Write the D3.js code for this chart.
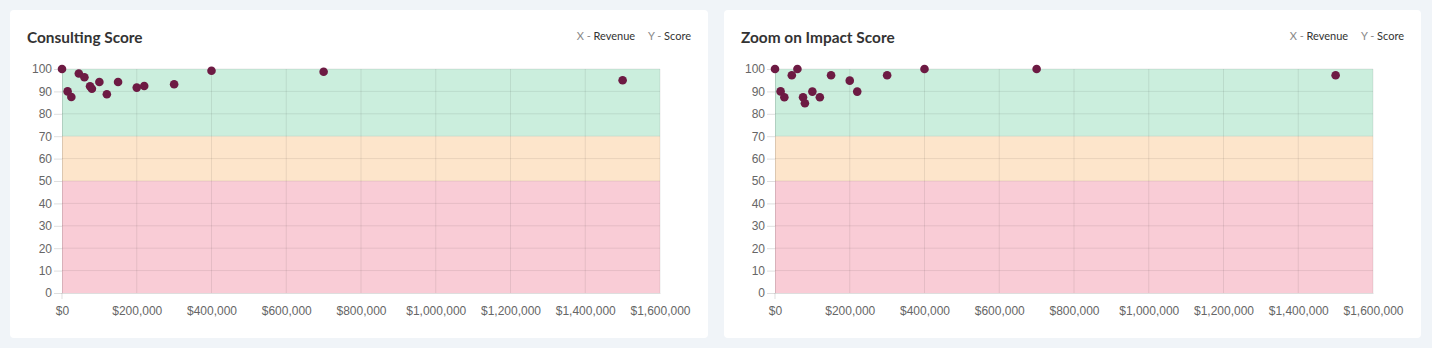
<!DOCTYPE html>
<html>
<head>
<meta charset="utf-8">
<script src="https://cdn.jsdelivr.net/npm/d3@7.9.0/dist/d3.min.js"></script>
<style>
  body { margin: 0; background: #f0f4f8; }
  svg { display: block; }
  .tick text { font-family: Arial, "Liberation Sans", sans-serif; font-size: 12px; fill: #666; }
</style>
</head>
<body>
<svg id="chart" width="1432" height="348"></svg>
<script>
// revenue of each client (same for both charts)
const revenue = [0, 15000, 25000, 45000, 60000, 75000, 80000, 100000, 120000, 150000, 200000, 220000, 300000, 400000, 700000, 1500000];
const consultingScore = [100, 90, 87.5, 98, 96.3, 92.3, 91.2, 94.2, 88.7, 94.2, 91.7, 92.4, 93.2, 99.2, 98.8, 95];
const impactScore = [100, 90, 87.4, 97.2, 100, 87.4, 84.7, 89.9, 87.4, 97.2, 94.8, 89.9, 97.2, 100, 100, 97.2];

const titles = ['Consulting Score', 'Zoom on Impact Score'];
const xTicks = [0, 200000, 400000, 600000, 800000, 1000000, 1200000, 1400000, 1600000];
const yTicks = [0, 10, 20, 30, 40, 50, 60, 70, 80, 90, 100];
const bandNames = ['bad', 'ok', 'good'];
const bandFrom = [0, 50, 70];
const bandTo = [50, 70, 100];
const bandColors = ['#f9ccd6', '#fde5cb', '#cbeedd'];

const svg = d3.select('#chart');

const cards = [
  { x: 10, y: 10, w: 698, h: 328, scores: consultingScore },
  { x: 724, y: 10, w: 697, h: 328, scores: impactScore }
];

cards.forEach((c, idx) => {
  const g = svg.append('g').attr('transform', `translate(${c.x},${c.y})`);
  g.append('rect').attr('width', c.w).attr('height', c.h).attr('rx', 4).attr('fill', '#fff');

  g.append('text')
    .attr('x', 17).attr('y', 33)
    .attr('font-family', 'Lato, "Noto Sans", sans-serif')
    .attr('font-weight', 'bold')
    .attr('font-size', 15.4)
    .attr('fill', '#333')
    .text(titles[idx]);

  const legend = g.append('text')
    .attr('x', c.w - 17).attr('y', 30)
    .attr('text-anchor', 'end')
    .attr('font-family', 'Lato, "Noto Sans", sans-serif')
    .attr('font-size', 11);
  legend.append('tspan').attr('fill', '#888').text('X - ');
  legend.append('tspan').attr('fill', '#333').text('Revenue');
  legend.append('tspan').attr('fill', '#888').attr('dx', 14).text('Y - ');
  legend.append('tspan').attr('fill', '#333').text('Score');

  const left = idx === 0 ? 52 : 51;
  const x = d3.scaleLinear().domain([0, 1600000]).range([left, left + 598]);
  const y = d3.scaleLinear().domain([0, 100]).range([283, 59]);

  bandFrom.forEach((b, i) => {
    g.append('rect')
      .attr('class', 'band ' + bandNames[i])
      .attr('x', x(0)).attr('width', x(1600000) - x(0))
      .attr('y', y(bandTo[i])).attr('height', y(b) - y(bandTo[i]))
      .attr('fill', bandColors[i]);
  });

  // grid
  g.append('g').selectAll('line').data(xTicks.slice(1)).join('line')
    .attr('x1', d => x(d)).attr('x2', d => x(d))
    .attr('y1', y(100)).attr('y2', y(0))
    .attr('stroke', 'rgba(0,0,0,0.08)');
  g.append('g').selectAll('line').data(yTicks.slice(1)).join('line')
    .attr('x1', x(0)).attr('x2', x(1600000))
    .attr('y1', d => y(d)).attr('y2', d => y(d))
    .attr('stroke', 'rgba(0,0,0,0.08)');

  const fmt = d3.format('$,');
  const xAxis = g.append('g').attr('transform', `translate(0,${y(0)})`)
    .call(d3.axisBottom(x).tickValues(xTicks).tickFormat(d => fmt(d)).tickSize(0).tickSizeOuter(0).tickPadding(11));
  const yAxis = g.append('g').attr('transform', `translate(${x(0)},0)`)
    .call(d3.axisLeft(y).tickValues(yTicks).tickSize(8).tickSizeOuter(0).tickPadding(2));
  [xAxis, yAxis].forEach(a => {
    a.select('.domain').attr('stroke', 'rgba(0,0,0,0.13)');
    a.selectAll('.tick line').attr('stroke', 'rgba(0,0,0,0.13)');
  });
  // y axis line runs a little below the x axis
  g.append('line')
    .attr('x1', x(0)).attr('x2', x(0))
    .attr('y1', y(0)).attr('y2', y(0) + 6)
    .attr('stroke', 'rgba(0,0,0,0.13)');
  xAxis.selectAll('.tick text').attr('dy', '0.9em');

  g.append('g').selectAll('circle')
    .data(revenue.map((r, i) => [r, c.scores[i]]))
    .join('circle')
    .attr('cx', d => x(d[0]))
    .attr('cy', d => y(d[1]))
    .attr('r', 4.3)
    .attr('fill', '#6d1a43');
});
</script>
</body>
</html>
